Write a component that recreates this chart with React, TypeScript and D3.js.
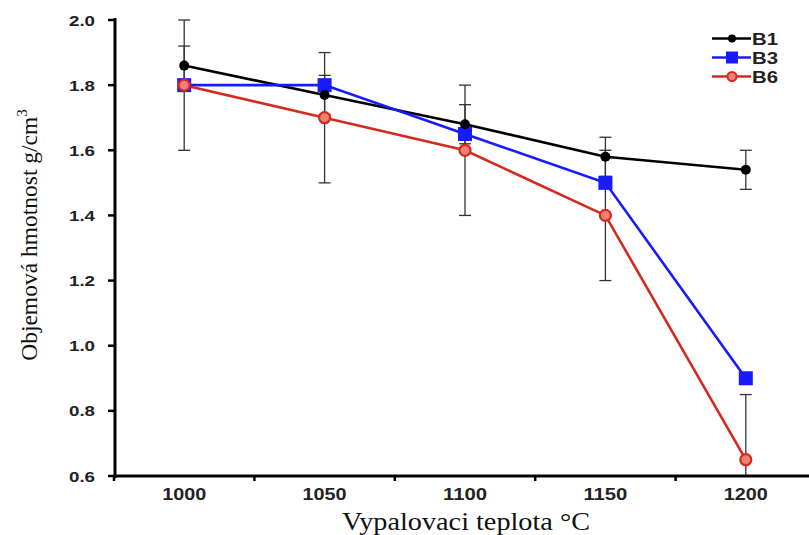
import React from "react";
import * as d3 from "d3";

const categories = ["1000", "1050", "1100", "1150", "1200"];
const yTicks = [0.6, 0.8, 1.0, 1.2, 1.4, 1.6, 1.8, 2.0];
const b1 = [1.86, 1.77, 1.68, 1.58, 1.54];
const b3 = [1.8, 1.8, 1.65, 1.5, 0.9];
const b6 = [1.8, 1.7, 1.6, 1.4, 0.65];
const b1Err = [0.06, 0.06, 0.06, 0.06, 0.06];
const b6Err = [0.2, 0.2, 0.2, 0.2, 0.2];

const W = 809;
const H = 535;

export default function App() {
  const x = d3.scaleBand<string>().domain(categories).range([114, 816]);
  const y = d3.scaleLinear().domain([0.6, 2.0]).range([476, 20]);
  const cx = (c: string) => (x(c) as number) + x.bandwidth() / 2;
  const line = d3
    .line<number>()
    .x((_, i) => cx(categories[i]))
    .y((d) => y(d));

  const errBars = (vals: number[], errs: number[], capW: number, key: string) =>
    vals.map((v, i) => {
      const px = cx(categories[i]);
      const top = y(Math.min(2.0, v + errs[i]));
      const bot = y(Math.max(0.6, v - errs[i]));
      return (
        <g key={key + i} stroke="#333" strokeWidth={1.3}>
          <line x1={px} x2={px} y1={top} y2={bot} />
          {v + errs[i] <= 2.0 && <line x1={px - capW} x2={px + capW} y1={top} y2={top} />}
          {v - errs[i] >= 0.6 && <line x1={px - capW} x2={px + capW} y1={bot} y2={bot} />}
        </g>
      );
    });

  const tickFont = "Liberation Sans, Arial, sans-serif";
  const serif = "Liberation Serif, Times New Roman, serif";

  return (
    <svg
      width={W}
      height={H}
      style={{ position: "absolute", left: 0, top: 0, background: "#fff" }}
    >
      {/* error bars */}
      {errBars(b6, b6Err, 6, "e6")}
      {errBars(b1, b1Err, 6, "e1")}

      {/* lines */}
      <path d={line(b1) || ""} fill="none" stroke="#000" strokeWidth={2.6} />
      <path d={line(b3) || ""} fill="none" stroke="#1a1aff" strokeWidth={2.6} />
      <path d={line(b6) || ""} fill="none" stroke="#d42a20" strokeWidth={2.6} />

      {/* markers */}
      {b3.map((v, i) => (
        <rect key={"m3" + i} x={cx(categories[i]) - 7} y={y(v) - 7} width={14} height={14} fill="#1a1aff" />
      ))}
      {b6.map((v, i) => (
        <circle key={"m6" + i} cx={cx(categories[i])} cy={y(v)} r={5.5} fill="#f08070" stroke="#d42a20" strokeWidth={2.2} />
      ))}
      {b1.map((v, i) => (
        <circle key={"m1" + i} cx={cx(categories[i])} cy={y(v)} r={5} fill="#000" />
      ))}

      {/* y axis */}
      <line x1={115} x2={115} y1={18} y2={478} stroke="#000" strokeWidth={3} />
      {yTicks.map((t) => (
        <g key={"yt" + t}>
          <line x1={108} x2={115} y1={y(t)} y2={y(t)} stroke="#000" strokeWidth={2.5} />
          <text
            x={95}
            y={y(t)}
            dy="0.36em"
            textAnchor="end"
            fontFamily={tickFont}
            fontWeight="bold"
            fontSize={15.5}
            textLength={26}
            lengthAdjust="spacingAndGlyphs"
            fill="#222"
          >
            {t.toFixed(1)}
          </text>
        </g>
      ))}

      {/* x axis */}
      <line x1={113} x2={W} y1={476} y2={476} stroke="#000" strokeWidth={3} />
      {categories.map((c) => (
        <g key={"xt" + c}>
          <line x1={x(c) as number} x2={x(c) as number} y1={476} y2={481} stroke="#000" strokeWidth={2.5} />
          <text
            x={cx(c)}
            y={500}
            textAnchor="middle"
            fontFamily={tickFont}
            fontWeight="bold"
            fontSize={16.5}
            textLength={44}
            lengthAdjust="spacingAndGlyphs"
            fill="#222"
          >
            {c}
          </text>
        </g>
      ))}

      {/* axis titles */}
      <text
        x={342}
        y={530}
        fontFamily={serif}
        fontSize={26}
        textLength={248}
        lengthAdjust="spacingAndGlyphs"
        fill="#111"
      >
        Vypalovaci teplota °C
      </text>
      <text
        transform="translate(37,235) rotate(-90)"
        textAnchor="middle"
        fontFamily={serif}
        fontSize={23.5}
        fill="#111"
      >
        Objemová hmotnost g/cm<tspan dy={-10} fontSize={15}>3</tspan>
      </text>

      {/* legend */}
      {[
        { name: "B1", color: "#000", type: "dot" },
        { name: "B3", color: "#1a1aff", type: "sq" },
        { name: "B6", color: "#d42a20", type: "ring" },
      ].map((s, i) => {
        const ly = 38.5 + i * 19;
        return (
          <g key={"lg" + s.name}>
            <line x1={712} x2={751} y1={ly} y2={ly} stroke={s.color} strokeWidth={2.6} />
            {s.type === "dot" && <circle cx={732} cy={ly} r={4} fill="#000" />}
            {s.type === "sq" && <rect x={726} y={ly - 6} width={12} height={12} fill={s.color} />}
            {s.type === "ring" && (
              <circle cx={732} cy={ly} r={4.5} fill="#f08070" stroke={s.color} strokeWidth={2} />
            )}
            <text
              x={752}
              y={ly}
              dy="0.36em"
              fontFamily={tickFont}
              fontWeight="bold"
              fontSize={17}
              textLength={26}
              lengthAdjust="spacingAndGlyphs"
              fill="#222"
            >
              {s.name}
            </text>
          </g>
        );
      })}
    </svg>
  );
}
